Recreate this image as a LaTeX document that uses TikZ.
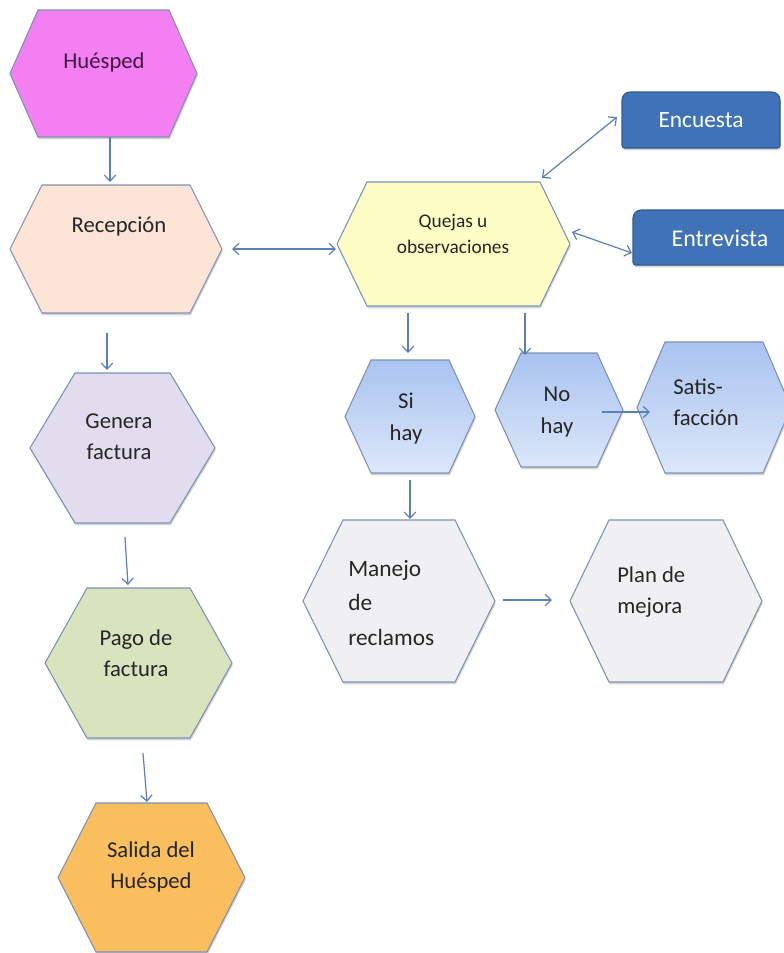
\documentclass[tikz,border=0pt]{standalone}
\usepackage{fontspec}
\setmainfont{Carlito}
\usetikzlibrary{arrows.meta,calc}
\definecolor{outl}{HTML}{7E91B3}
\definecolor{arr}{HTML}{5B80B9}
\definecolor{txtc}{HTML}{262626}
\definecolor{huesc}{HTML}{3E1A40}
\definecolor{huesfill}{HTML}{F47FF1}
\definecolor{recepfill}{HTML}{FCE4D6}
\definecolor{genfill}{HTML}{E1DDEE}
\definecolor{pagofill}{HTML}{D8E4BE}
\definecolor{salfill}{HTML}{F9BF5E}
\definecolor{quejfill}{HTML}{FDFDC6}
\definecolor{bluetop}{HTML}{A9C3F0}
\definecolor{bluebot}{HTML}{DCE7F9}
\definecolor{grayfill}{HTML}{F0F0F2}
\definecolor{boxblue}{HTML}{3F72B6}
\definecolor{boxedge}{HTML}{2E5A93}
\tikzset{
  hexbox/.style={draw=none, inner sep=0pt, outer sep=0pt, rectangle},
  hexline/.style={draw=outl, line width=0.8pt, line join=miter},
  hexshadow/.style={fill=black, fill opacity=0.16, draw=none, transform canvas={shift={(0.6pt,-1.8pt)}}},
  txt/.style={inner sep=0pt, text=txtc, font=\fontsize{17}{23}\selectfont, align=center},
  conn/.style={draw=arr, line width=0.9pt, -{Straight Barb[length=4.5pt,width=8.5pt]}},
  dconn/.style={draw=arr, line width=0.9pt, {Straight Barb[length=4.5pt,width=8.5pt]}-{Straight Barb[length=4.5pt,width=8.5pt]}},
  bluebox/.style={fill=boxblue, draw=boxedge, line width=0.8pt},
}
% #1 name, #2 x1, #3 y1, #4 x2, #5 y2, #6 inset, #7 fill options
\newcommand{\hexa}[7]{%
  \node[hexbox, minimum width={(#4-#2)*0.75pt}, minimum height={(#5-#3)*0.75pt}] (#1) at ({(#2+#4)/2},{(#3+#5)/2}) {};
  \path[hexshadow] (#1.west) -- ([xshift=#6*0.75pt]#1.north west) -- ([xshift=-#6*0.75pt]#1.north east) -- (#1.east) -- ([xshift=-#6*0.75pt]#1.south east) -- ([xshift=#6*0.75pt]#1.south west) -- cycle;
  \path[hexline,#7] (#1.west) -- ([xshift=#6*0.75pt]#1.north west) -- ([xshift=-#6*0.75pt]#1.north east) -- (#1.east) -- ([xshift=-#6*0.75pt]#1.south east) -- ([xshift=#6*0.75pt]#1.south west) -- cycle;
}
% #1 name, #2 x1, #3 y1, #4 x2, #5 y2
\newcommand{\tab}[5]{%
  \node[hexbox, minimum width={(#4-#2)*0.75pt}, minimum height={(#5-#3)*0.75pt}] (#1) at ({(#2+#4)/2},{(#3+#5)/2}) {};
  \path[hexshadow] (#1.south west) [rounded corners=6pt] -- (#1.north west) -- (#1.north east) [rounded corners=2pt] -- (#1.south east) -- cycle;
  \path[bluebox] (#1.south west) [rounded corners=6pt] -- (#1.north west) -- (#1.north east) [rounded corners=2pt] -- (#1.south east) -- cycle;
}
\begin{document}
\begin{tikzpicture}[x=0.75pt,y=-0.75pt]
\useasboundingbox (0,0) rectangle (784,953);
\fill[white] (0,0) rectangle (784,953);

% left column
\hexa{hues}{10}{10}{197}{137}{28}{fill=huesfill}
\node[txt, text=huesc] (hues-t) at (104,62) {Huésped};
\hexa{recep}{10}{185}{222}{313}{32}{fill=recepfill}
\node[txt] (recep-t) at (119,227) {Recepción};
\hexa{gen}{30}{373}{215}{523}{45}{fill=genfill}
\node[txt] (gen-t) at (119,437) {Genera\\factura};
\hexa{pago}{45}{588}{232}{738}{42}{fill=pagofill}
\node[txt] (pago-t) at (136,653) {Pago de\\factura};
\hexa{sal}{58}{803}{245}{952}{38}{fill=salfill}
\node[txt] (sal-t) at (151,867) {Salida del\\Huésped};

% right part
\hexa{quejas}{337}{182}{570}{306}{30}{fill=quejfill}
\node[txt, font=\fontsize{14.5}{19.5}\selectfont] (quejas-t) at (453,234) {Quejas u\\observaciones};
\tab{enc}{622}{92}{780}{148}
\node[txt, text=white, font=\fontsize{17.5}{22}\selectfont] (enc-t) at (701,120) {Encuesta};
\tab{entr}{633}{210}{808}{265}
\node[txt, text=white, font=\fontsize{18}{22}\selectfont] (entr-t) at (720,238) {Entrevista};

\hexa{si}{345}{360}{475}{473}{26}{top color=bluetop, bottom color=bluebot}
\node[txt, font=\fontsize{17}{24}\selectfont] (si-t) at (406,419) {Si\\hay};
\hexa{no}{495}{353}{623}{467}{26}{top color=bluetop, bottom color=bluebot}
\node[txt, font=\fontsize{17}{24}\selectfont] (no-t) at (557,412) {No\\hay};
\hexa{satis}{637}{342}{791}{473}{28}{top color=bluetop, bottom color=bluebot}
\node[txt, align=left, anchor=west] (satis-t) at (673,402) {Satis-\\facción};

\hexa{man}{303}{520}{495}{682}{40}{fill=grayfill}
\node[txt, align=left, anchor=west, font=\fontsize{17.5}{26}\selectfont] (man-t) at (348,603) {Manejo\\de\\reclamos};
\hexa{plan}{570}{520}{762}{682}{39}{fill=grayfill}
\node[txt, align=left, anchor=west] (plan-t) at (617,592) {Plan de\\mejora};

% connectors
\draw[conn] ($(hues.south)+(6.5,0)$) -- ($(recep.north)+(-6,-3)$);
\draw[dconn] ($(recep.east)+(10,0)$) -- ($(quejas.west)+(-1,5)$);
\draw[dconn] ($(quejas.north east)+(-28,-4)$) -- ($(enc.south west)+(-5,-31)$);
\draw[dconn] ($(quejas.east)+(2,-12)$) -- ($(entr.west)+(-1,15.5)$);
\draw[conn] ($(recep.south)+(-9,20)$) -- ($(gen.north)+(-15.5,-3)$);
\draw[conn] ($(gen.south)+(2.5,14)$) -- ($(pago.north)+(-10.5,-3)$);
\draw[conn] ($(pago.south)+(4.5,15)$) -- ($(sal.north)+(-4.5,-1)$);
\draw[conn] ($(quejas.south)+(-45.5,7)$) -- ($(si.north)+(-2,-7)$);
\draw[conn] ($(quejas.south)+(71.5,7)$) -- ($(no.north)+(-34,2)$);
\draw[conn] ($(no.east)+(-21,2)$) -- ($(satis.west)+(13,4.5)$);
\draw[conn] ($(si.south)+(0,7)$) -- ($(man.north)+(11,-1)$);
\draw[conn] ($(man.east)+(8,-1)$) -- ($(plan.west)+(-18,-1)$);
\end{tikzpicture}
\end{document}
